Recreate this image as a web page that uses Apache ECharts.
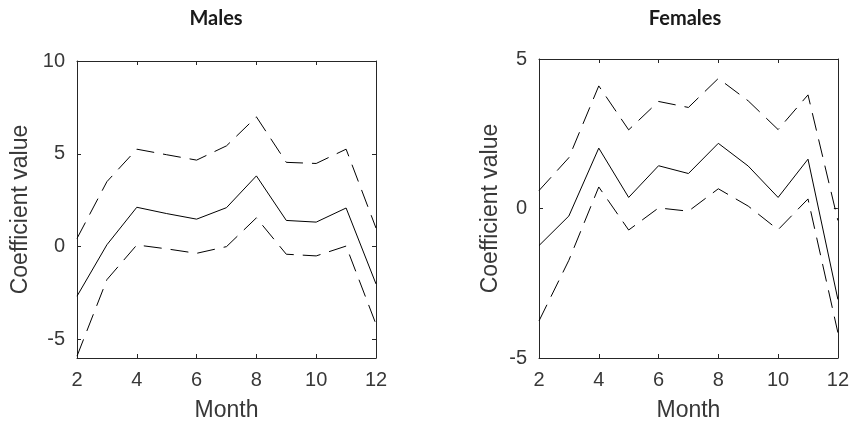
<!DOCTYPE html>
<html>
<head>
<meta charset="utf-8">
<script src="https://cdn.jsdelivr.net/npm/echarts@6/dist/echarts.min.js"></script>
<style>html,body{margin:0;padding:0;background:#fff;}#c{width:852px;height:427px;}</style>
</head>
<body>
<div id="c"></div>
<script>
var months = [2, 3, 4, 5, 6, 7, 8, 9, 10, 11, 12];
var malesMean  = [-2.67, 0.1, 2.12, 1.78, 1.48, 2.1, 3.81, 1.41, 1.32, 2.08, -2.01];
var malesUpper = [0.44, 3.5, 5.25, 4.95, 4.66, 5.43, 6.99, 4.54, 4.48, 5.25, 1.0];
var malesLower = [-5.9, -1.78, 0.09, -0.12, -0.36, 0.0, 1.55, -0.41, -0.5, 0.03, -4.18];
var femalesMean  = [-1.24, -0.25, 2.02, 0.37, 1.43, 1.17, 2.18, 1.42, 0.37, 1.65, -3.04];
var femalesUpper = [0.6, 1.7, 4.1, 2.63, 3.58, 3.38, 4.35, 3.6, 2.64, 3.8, -0.4];
var femalesLower = [-3.76, -1.73, 0.72, -0.72, 0.02, -0.09, 0.66, 0.08, -0.71, 0.32, -4.15];
var xTicks = [2, 4, 6, 8, 10, 12];
var malesYTicks = [-5, 0, 5, 10];
var femalesYTicks = [-5, 0, 5];
var titles = ['Males', 'Females'];
var xName = 'Month';
var yName = 'Coefficient value';

var AX = '#262626';
var TXT = '#383838';
var FONT = 'Liberation Sans, Arial, Helvetica, sans-serif';

function pairs(ys) { return months.map(function (m, i) { return [m, ys[i]]; }); }

function xAx(grid, pos, showLabel, nameGap) {
  return {
    type: 'value', gridIndex: grid, position: pos, min: 2, max: 12, interval: 2,
    name: showLabel ? xName : '', nameLocation: 'middle', nameGap: nameGap,
    nameTextStyle: { color: TXT, fontSize: 23, fontFamily: FONT },
    axisLine: { show: true, onZero: false, lineStyle: { color: AX, width: 1 } },
    axisTick: { show: true, inside: true, length: 4, lineStyle: { color: AX }, customValues: xTicks },
    axisLabel: { show: showLabel, color: TXT, fontSize: 20, fontFamily: FONT, margin: 12, customValues: xTicks },
    splitLine: { show: false }
  };
}
function yAx(grid, pos, showLabel, min, max, ticks, nameGap) {
  return {
    type: 'value', gridIndex: grid, position: pos, min: min, max: max,
    name: showLabel ? yName : '', nameLocation: 'middle', nameGap: nameGap, nameRotate: 90,
    nameTextStyle: { color: TXT, fontSize: 23, fontFamily: FONT },
    axisLine: { show: true, onZero: false, lineStyle: { color: AX, width: 1 } },
    axisTick: { show: true, inside: true, length: 4, lineStyle: { color: AX }, customValues: ticks },
    axisLabel: { show: showLabel, color: TXT, fontSize: 20, fontFamily: FONT, margin: 12, customValues: ticks },
    splitLine: { show: false }
  };
}
function line(x, y, data, dashed) {
  return {
    type: 'line', xAxisIndex: x, yAxisIndex: y, data: pairs(data), symbol: 'none',
    silent: true, animation: false,
    lineStyle: { color: '#000', width: 1, type: dashed ? [18, 9] : 'solid' }
  };
}

var chart = echarts.init(document.getElementById('c'));
chart.setOption({
  animation: false,
  grid: [
    { left: 77, right: 476, top: 61, bottom: 68 },
    { left: 539, right: 8, top: 59, bottom: 64 }
  ],
  xAxis: [
    xAx(0, 'bottom', true, 41), xAx(0, 'top', false, 0),
    xAx(1, 'bottom', true, 41), xAx(1, 'top', false, 0)
  ],
  yAxis: [
    yAx(0, 'left', true, -6, 10, malesYTicks, 45), yAx(0, 'right', false, -6, 10, malesYTicks, 0),
    yAx(1, 'left', true, -5, 5, femalesYTicks, 37), yAx(1, 'right', false, -5, 5, femalesYTicks, 0)
  ],
  graphic: [
    { type: 'text', x: 216, y: 19, style: { text: titles[0], fill: '#1a1a1a', font: 'bold 20px Lato, sans-serif', align: 'center', verticalAlign: 'middle' } },
    { type: 'text', x: 685, y: 19, style: { text: titles[1], fill: '#1a1a1a', font: 'bold 20px Lato, sans-serif', align: 'center', verticalAlign: 'middle' } }
  ],
  series: [
    line(0, 0, malesMean, false), line(0, 0, malesUpper, true), line(0, 0, malesLower, true),
    line(2, 2, femalesMean, false), line(2, 2, femalesUpper, true), line(2, 2, femalesLower, true)
  ]
});
</script>
</body>
</html>
